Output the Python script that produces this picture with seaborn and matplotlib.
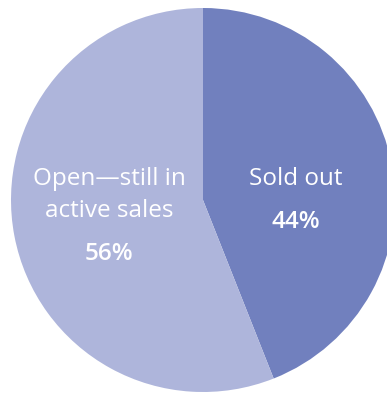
import matplotlib
matplotlib.use("Agg")
import matplotlib.pyplot as plt
import seaborn as sns

categories = ["Sold out", "Open\u2014still in\nactive sales"]
values = [44, 56]
pct_labels = ["44%", "56%"]
colors = ["#7180BE", "#AEB5DB"]

sns.set_theme(style="white")
plt.rcParams['font.family'] = ['Open Sans', 'DejaVu Sans']

W, H = 387, 396
fig = plt.figure(figsize=(W / 100, H / 100), dpi=100)
ax = fig.add_axes([0, 0, 1, 1])

cx, cy, r = 203, H - 200, 192
palette = sns.color_palette(colors)
ax.pie(values, colors=palette, startangle=90, counterclock=False,
       center=(cx, cy), radius=r, wedgeprops=dict(linewidth=0))

ax.set_xlim(0, W)
ax.set_ylim(0, H)
ax.set_aspect('equal')
ax.axis('off')

fs = 17.5
# labels
ax.text(296, H - 179, categories[0], ha='center', va='center',
        color='white', fontsize=fs, fontweight='normal')
ax.text(296, H - 222, pct_labels[0], ha='center', va='center',
        color='white', fontsize=fs, fontweight='semibold')
for i, line in enumerate(categories[1].split("\n")):
    ax.text(109, H - (179 + 32 * i), line, ha='center', va='center',
            color='white', fontsize=fs, fontweight='normal')
ax.text(109, H - 254, pct_labels[1], ha='center', va='center',
        color='white', fontsize=fs, fontweight='semibold')

fig.savefig("out.png", dpi=100, facecolor='white')
